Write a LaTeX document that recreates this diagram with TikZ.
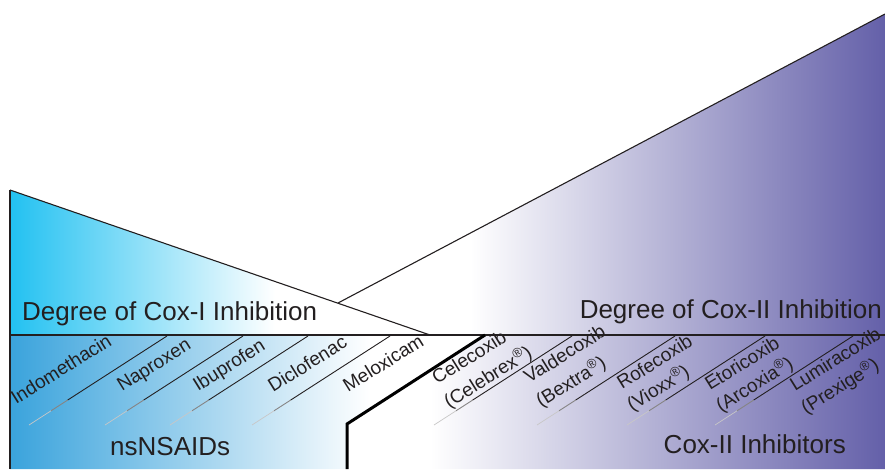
\documentclass[tikz,border=0pt]{standalone}
\usepackage{fontspec}
\setmainfont{Liberation Sans}
\usetikzlibrary{calc}
\definecolor{coxOneCyan}{HTML}{22C1F1}
\definecolor{coxOneBlue}{HTML}{3AA3DC}
\definecolor{coxTwoPurple}{HTML}{6460A9}
\definecolor{inkGray}{HTML}{231F20}
\newcommand{\regmark}{\textsuperscript{®}}

\begin{document}
\begin{tikzpicture}[x=1pt, y=1pt,
  outline/.style={draw=inkGray, line width=1.1pt},
  divider/.style={draw=inkGray, line width=0.9pt},
  heading/.style={font=\fontsize{26}{30}\selectfont, text=inkGray, inner sep=0pt},
  drug/.style={font=\fontsize{19}{22}\selectfont, text=inkGray, rotate=32, anchor=base west, inner sep=0pt}
]
\useasboundingbox (0,0) rectangle (885,469);
\coordinate (leftTop) at (10,279);
\coordinate (leftBase) at (10,134);
\coordinate (leftFoot) at (10,0);
\coordinate (apex) at (430,134);
\coordinate (meet) at (338,166);
\coordinate (rightTop) at (885,455);
\coordinate (rightBase) at (885,134);
\coordinate (rightFoot) at (885,0);
\coordinate (kneeTop) at (485,134);
\coordinate (knee) at (347,45);
\coordinate (kneeFoot) at (347,0);

% shaded areas
\begin{scope}
  \clip (leftTop) -- (apex) -- (leftBase) -- cycle;
  \shade[left color=coxOneCyan, right color=white] (10,134) rectangle (275,279);
\end{scope}
\begin{scope}
  \clip (meet) -- (rightTop) -- (rightBase) -- (apex) -- cycle;
  \shade[left color=white, right color=coxTwoPurple] (470,134) rectangle (885,455);
\end{scope}
\begin{scope}
  \clip (leftBase) -- (kneeTop) -- (knee) -- (kneeFoot) -- (leftFoot) -- cycle;
  \shade[left color=coxOneBlue, right color=white] (10,0) rectangle (370,134);
\end{scope}
\begin{scope}
  \clip (kneeTop) -- (rightBase) -- (rightFoot) -- (kneeFoot) -- (knee) -- cycle;
  \shade[left color=white, right color=coxTwoPurple] (430,0) rectangle (885,134);
\end{scope}

% outlines
\draw[outline] (leftTop) -- (apex);
\draw[outline] (meet) -- (rightTop);
\draw[outline, line width=1.6pt] (leftTop) -- (leftFoot);
\draw[draw=inkGray, line width=2pt] (leftBase) -- (rightBase);
\draw[black, line width=3pt] (kneeTop) -- (knee) -- (kneeFoot);

% separators between drugs
\foreach \x [count=\i] in {167,243,308,390,572,675,765,853} {
  \coordinate (sepTop\i) at (\x,133);
  \coordinate (sepEnd\i) at (\x-138,44);
  \draw[divider] (sepTop\i) -- ($(sepTop\i)!0.72!(sepEnd\i)$);
  \draw[divider, draw=inkGray!55] ($(sepTop\i)!0.72!(sepEnd\i)$) -- ($(sepTop\i)!0.84!(sepEnd\i)$);
  \draw[divider, draw=white!75!inkGray, line width=0.7pt] ($(sepTop\i)!0.84!(sepEnd\i)$) -- (sepEnd\i);
}

% headings
\node[heading, anchor=base west] (coxOneDegree) at (22,149) {Degree of Cox-I Inhibition};
\node[heading, anchor=base east] (coxTwoDegree) at (882,151) {Degree of Cox-II Inhibition};
\node[heading, anchor=base west] (nsnsaids) at (110,14) {nsNSAIDs};
\node[heading, anchor=base east] (coxTwoInhib) at (846,16) {Cox-II Inhibitors};

% nsNSAIDs
\node[drug] (indomethacin) at (16,64) {Indomethacin};
\node[drug] (naproxen) at (122,77) {Naproxen};
\node[drug] (ibuprofen) at (198,77) {Ibuprofen};
\node[drug] (diclofenac) at (273,76) {Diclofenac};
\node[drug] (meloxicam) at (348,76) {Meloxicam};

% Cox-II inhibitors
\node[drug] (celecoxib) at (437,84) {Celecoxib};
\node[drug] (celebrex) at (449,60) {(Celebrex\regmark)};
\node[drug] (valdecoxib) at (529,85) {Valdecoxib};
\node[drug] (bextra) at (541,61) {(Bextra\regmark)};
\node[drug] (rofecoxib) at (622,79) {Rofecoxib};
\node[drug] (vioxx) at (632,57) {(Vioxx\regmark)};
\node[drug] (etoricoxib) at (710,78) {Etoricoxib};
\node[drug] (arcoxia) at (721,56) {(Arcoxia\regmark)};
\node[drug] (lumiracoxib) at (795,77) {Lumiracoxib};
\node[drug] (prexige) at (806,54) {(Prexige\regmark)};
\end{tikzpicture}
\end{document}
